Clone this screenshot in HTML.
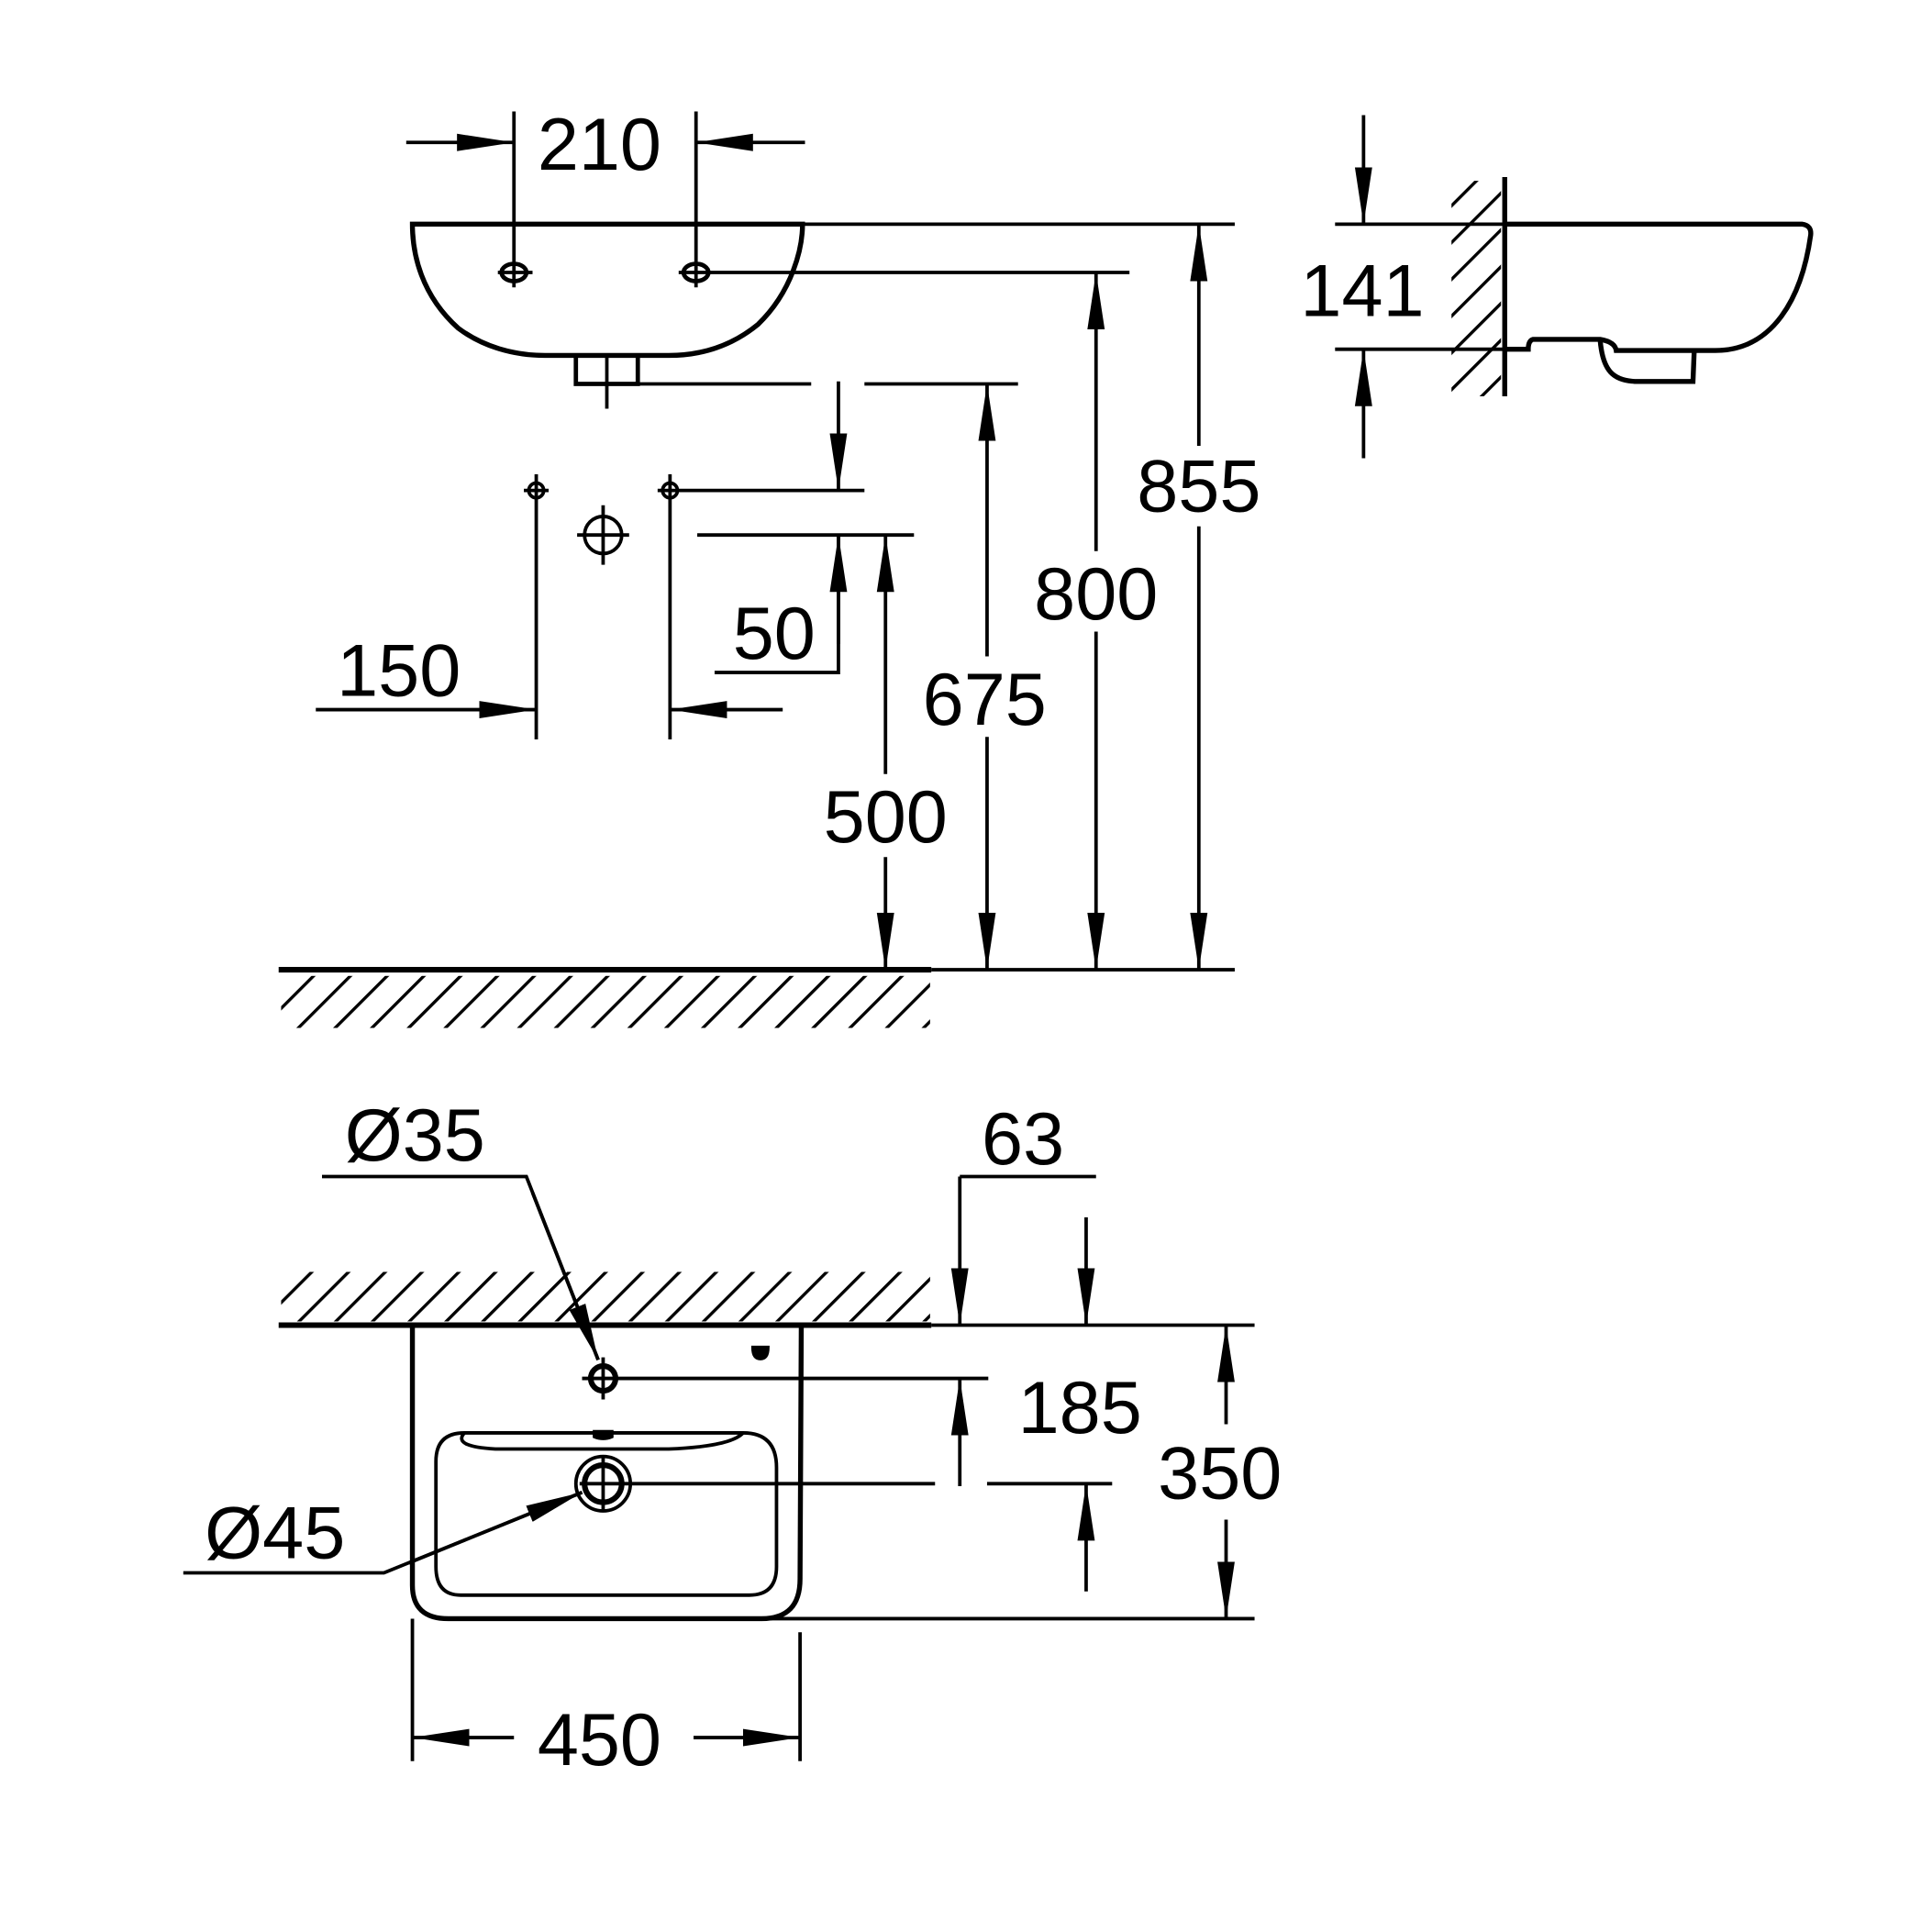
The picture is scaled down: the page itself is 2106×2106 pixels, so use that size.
<!DOCTYPE html>
<html><head><meta charset="utf-8"><style>html,body{margin:0;padding:0;background:#fff}svg{display:block}text{font-family:"Liberation Sans",sans-serif;font-size:60px;fill:#000;text-anchor:middle}</style></head>
<body>
<svg width="2106" height="2106" viewBox="0 0 1560 1560" xmlns="http://www.w3.org/2000/svg">
<defs>
<marker id="a" markerUnits="userSpaceOnUse" markerWidth="50" markerHeight="20" refX="46" refY="8" orient="auto"><path d="M0,1 L46,8 L0,15 Z" fill="#000"/></marker>
<pattern id="h" patternUnits="userSpaceOnUse" width="21" height="21" patternTransform="rotate(45)"><line x1="0" y1="0" x2="0" y2="21" stroke="#000" stroke-width="5"/></pattern>
</defs>
<g fill="none" stroke="#000" stroke-width="2.8">
<path d="M333,181 L648,181 C648,200 640,235 612,262 C590,280 565,287 540,287 L440,287 C415,287 390,280 370,265 C340,238 333,205 333,181 Z" stroke-width="4"/>
<rect x="465" y="287" width="50" height="23" stroke-width="3.5"/>
<line x1="490" y1="287" x2="490" y2="330"/>
<line x1="648" y1="181" x2="997" y2="181"/>
<line x1="515" y1="310" x2="655" y2="310"/>
<line x1="698" y1="310" x2="822" y2="310"/>
<ellipse cx="415" cy="220" rx="10" ry="7" stroke-width="3.5"/>
<ellipse cx="562" cy="220" rx="10" ry="7" stroke-width="3.5"/>
<line x1="415" y1="90" x2="415" y2="232"/><line x1="402" y1="220" x2="430" y2="220"/>
<line x1="562" y1="90" x2="562" y2="232"/><line x1="548" y1="220" x2="912" y2="220"/>
<line x1="328" y1="115" x2="415" y2="115" marker-end="url(#a)"/>
<line x1="650" y1="115" x2="562" y2="115" marker-end="url(#a)"/>
<line x1="968" y1="360" x2="968" y2="181" marker-end="url(#a)"/>
<line x1="968" y1="425" x2="968" y2="783" marker-end="url(#a)"/>
<line x1="885" y1="445" x2="885" y2="220" marker-end="url(#a)"/>
<line x1="885" y1="510" x2="885" y2="783" marker-end="url(#a)"/>
<line x1="797" y1="530" x2="797" y2="310" marker-end="url(#a)"/>
<line x1="797" y1="595" x2="797" y2="783" marker-end="url(#a)"/>
<line x1="715" y1="625" x2="715" y2="432" marker-end="url(#a)"/>
<line x1="715" y1="692" x2="715" y2="783" marker-end="url(#a)"/>
<circle cx="433" cy="396" r="6"/><line x1="433" y1="383" x2="433" y2="597"/><line x1="423" y1="396" x2="443" y2="396"/>
<circle cx="541" cy="396" r="6"/><line x1="541" y1="383" x2="541" y2="597"/><line x1="531" y1="396" x2="698" y2="396"/>
<circle cx="487" cy="432" r="15"/><line x1="466" y1="432" x2="508" y2="432"/><line x1="487" y1="408" x2="487" y2="456"/>
<line x1="563" y1="432" x2="738" y2="432"/>
<line x1="677" y1="308" x2="677" y2="396" marker-end="url(#a)"/>
<polyline points="577,543 677,543 677,432"/>
<line x1="677" y1="520" x2="677" y2="432" marker-end="url(#a)"/>
<line x1="255" y1="573" x2="433" y2="573" marker-end="url(#a)"/>
<line x1="632" y1="573" x2="541" y2="573" marker-end="url(#a)"/>
<line x1="225" y1="783" x2="752" y2="783" stroke-width="4.5"/>
<line x1="752" y1="783" x2="997" y2="783"/>
<rect x="227" y="788" width="524" height="42" fill="url(#h)" stroke="none"/>
<line x1="1215" y1="143" x2="1215" y2="320" stroke-width="4"/>
<rect x="1172" y="146" width="40" height="174" fill="url(#h)" stroke="none"/>
<path d="M1215,181 L1455,181 Q1463,182 1462,190 C1455,240 1432,283 1385,283 L1305,283 Q1304,276 1292,274 L1238,274 Q1234,275 1234,282 L1215,282" stroke-width="4"/>
<path d="M1292,274 C1294,300 1303,307 1320,308 L1367,308 L1368,283" stroke-width="4"/>
<line x1="1078" y1="181" x2="1215" y2="181"/>
<line x1="1078" y1="282" x2="1215" y2="282"/>
<line x1="1101" y1="93" x2="1101" y2="181" marker-end="url(#a)"/>
<line x1="1101" y1="370" x2="1101" y2="282" marker-end="url(#a)"/>
<line x1="225" y1="1070" x2="752" y2="1070" stroke-width="4.5"/>
<line x1="752" y1="1070" x2="1013" y2="1070"/>
<rect x="227" y="1027" width="524" height="40" fill="url(#h)" stroke="none"/>
<path d="M333,1070 L333,1280 Q333,1307 362,1307 L615,1307 Q646,1307 646,1275 L647,1070" stroke-width="4"/>
<line x1="615" y1="1307" x2="1013" y2="1307"/>
<path d="M375,1157 L600,1157 Q627,1157 627,1185 L627,1265 Q627,1288 605,1288 L372,1288 Q352,1288 352,1265 L352,1180 Q352,1157 375,1157 Z" stroke-width="2.8"/>
<path d="M375,1157 Q365,1168 400,1170 L540,1170 Q590,1168 600,1157"/>
<circle cx="487" cy="1113" r="10" stroke-width="4.5"/>
<line x1="470" y1="1113" x2="798" y2="1113"/><line x1="487" y1="1096" x2="487" y2="1130"/>
<path d="M608,1088 L620,1088 Q620,1097 614,1097 Q608,1097 608,1088 Z" fill="#000"/>
<path d="M480,1156 L494,1156 L494,1160 Q487,1163 480,1160 Z" fill="#000"/>
<circle cx="487" cy="1198" r="22"/><circle cx="487" cy="1198" r="15" stroke-width="4.5"/>
<line x1="468" y1="1198" x2="755" y2="1198"/><line x1="487" y1="1176" x2="487" y2="1220"/>
<line x1="797" y1="1198" x2="898" y2="1198"/>
<polyline points="260,950 425,950 483,1098"/>
<line x1="430" y1="963" x2="483" y2="1098" marker-end="url(#a)"/>
<polyline points="148,1270 310,1270 470,1205"/>
<line x1="330" y1="1262" x2="470" y2="1205" marker-end="url(#a)"/>
<line x1="775" y1="950" x2="885" y2="950"/>
<line x1="775" y1="950" x2="775" y2="1070" marker-end="url(#a)"/>
<line x1="877" y1="983" x2="877" y2="1070" marker-end="url(#a)"/>
<line x1="775" y1="1200" x2="775" y2="1113" marker-end="url(#a)"/>
<line x1="877" y1="1285" x2="877" y2="1198" marker-end="url(#a)"/>
<line x1="990" y1="1150" x2="990" y2="1070" marker-end="url(#a)"/>
<line x1="990" y1="1227" x2="990" y2="1307" marker-end="url(#a)"/>
<line x1="333" y1="1307" x2="333" y2="1422"/>
<line x1="646" y1="1318" x2="646" y2="1422"/>
<line x1="415" y1="1403" x2="333" y2="1403" marker-end="url(#a)"/>
<line x1="560" y1="1403" x2="646" y2="1403" marker-end="url(#a)"/>
</g>
<text x="484" y="137">210</text>
<text x="968" y="413">855</text>
<text x="885" y="500">800</text>
<text x="795" y="585">675</text>
<text x="715" y="680">500</text>
<text x="625" y="532">50</text>
<text x="322" y="562">150</text>
<text x="1100" y="255">141</text>
<text x="335" y="937">Ø35</text>
<text x="826" y="940">63</text>
<text x="872" y="1157">185</text>
<text x="985" y="1210">350</text>
<text x="222" y="1258">Ø45</text>
<text x="484" y="1425">450</text>
</svg>
</body></html>
